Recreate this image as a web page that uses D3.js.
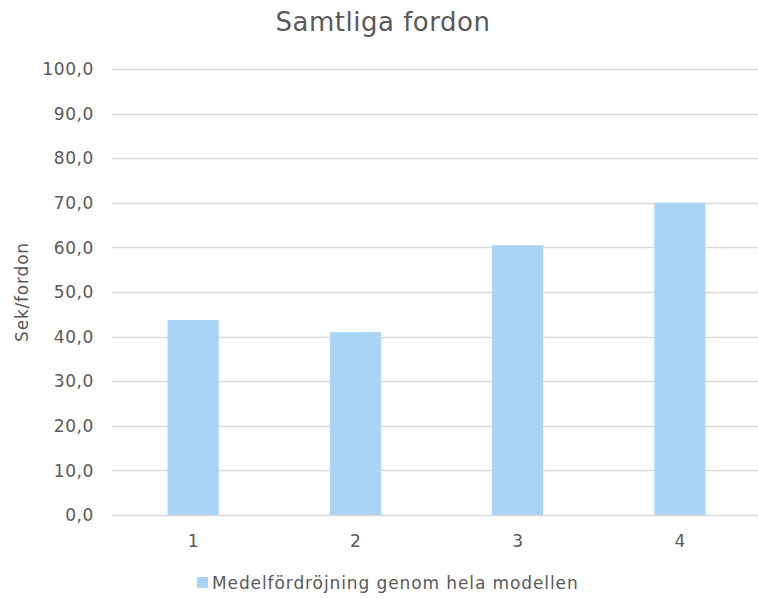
<!DOCTYPE html>
<html>
<head>
<meta charset="utf-8">
<script src="https://cdn.jsdelivr.net/npm/d3@7"></script>
<style>
  body { margin: 0; background: #fff; }
  text { font-family: "DejaVu Sans", Verdana, sans-serif; fill: #595959; }
</style>
</head>
<body>
<svg width="758" height="598"></svg>
<script>
var categories = ["1", "2", "3", "4"];
var values = [43.7, 41.0, 60.5, 70.0];
var yTicks = [0, 10, 20, 30, 40, 50, 60, 70, 80, 90, 100];
var seriesName = "Medelfördröjning genom hela modellen";

var svg = d3.select("svg"),
    margin = {top: 69, right: -3, bottom: 83, left: 112},
    width = +svg.attr("width") - margin.left - margin.right,
    height = +svg.attr("height") - margin.top - margin.bottom,
    g = svg.append("g").attr("transform", "translate(" + margin.left + "," + margin.top + ")");

var x = d3.scaleBand()
    .domain(categories)
    .range([0, width])
    .paddingInner(0.685)
    .paddingOuter(0.3425);

var y = d3.scaleLinear()
    .domain([0, 100])
    .range([height, 0]);

// gridlines
g.append("g")
    .selectAll("line")
    .data(yTicks)
    .enter().append("line")
      .attr("x1", 0)
      .attr("x2", width)
      .attr("y1", function(d) { return Math.round(y(d)) + 0.5; })
      .attr("y2", function(d) { return Math.round(y(d)) + 0.5; })
      .attr("stroke", "#d9d9d9")
      .attr("stroke-width", 1.3);

// y labels
g.append("g")
    .selectAll("text")
    .data(yTicks)
    .enter().append("text")
      .attr("x", -18)
      .attr("y", function(d) { return y(d); })
      .attr("dy", "0.36em")
      .attr("text-anchor", "end")
      .attr("font-size", 17)
      .attr("letter-spacing", 0.6)
      .text(function(d) { return d3.format(".1f")(d).replace(".", ","); });

// bars
g.append("g")
    .selectAll("rect")
    .data(values)
    .enter().append("rect")
      .attr("x", function(d, i) { return x(categories[i]); })
      .attr("y", function(d) { return y(d); })
      .attr("width", x.bandwidth())
      .attr("height", function(d) { return y(0) - y(d); })
      .attr("fill", "#a9d4f5");

// x labels
g.append("g")
    .selectAll("text")
    .data(categories)
    .enter().append("text")
      .attr("x", function(d) { return x(d) + x.bandwidth() / 2; })
      .attr("y", height + 32)
      .attr("text-anchor", "middle")
      .attr("font-size", 17)
      .text(function(d) { return d; });

// title
svg.append("text")
    .attr("x", 383)
    .attr("y", 31)
    .attr("text-anchor", "middle")
    .attr("font-size", 26)
    .attr("letter-spacing", 0.5)
    .text("Samtliga fordon");

// y axis title
svg.append("text")
    .attr("transform", "translate(28,292) rotate(-90)")
    .attr("text-anchor", "middle")
    .attr("font-size", 17)
    .attr("letter-spacing", 0.8)
    .text("Sek/fordon");

// legend
var legend = svg.append("g").attr("transform", "translate(197,589)");
legend.append("rect")
    .attr("x", 0)
    .attr("y", -12)
    .attr("width", 11)
    .attr("height", 11)
    .attr("fill", "#a9d4f5");
legend.append("text")
    .attr("x", 15)
    .attr("y", 0)
    .attr("font-size", 17)
    .attr("letter-spacing", 0.9)
    .text(seriesName);
</script>
</body>
</html>
